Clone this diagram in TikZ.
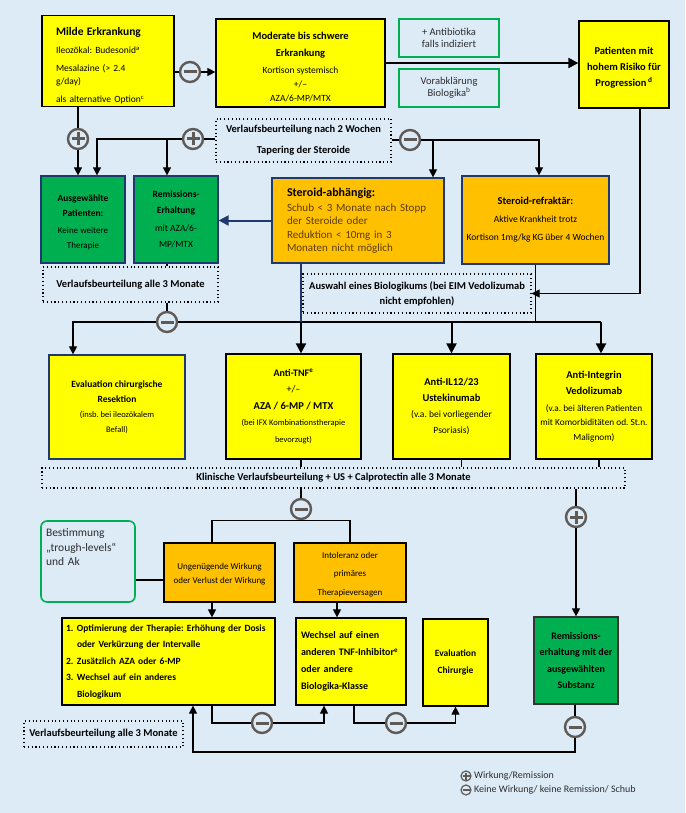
\documentclass[tikz,border=0pt]{standalone}
\usepackage{fontspec}
\setmainfont{Carlito}
\usetikzlibrary{arrows.meta}
\frenchspacing
\newcommand\fsz[2]{\fontsize{#1}{#2}\selectfont}
\definecolor{bg}{RGB}{221,235,247}
\definecolor{yel}{RGB}{255,255,0}
\definecolor{ora}{RGB}{255,192,0}
\definecolor{grn}{RGB}{0,176,80}
\definecolor{navy}{RGB}{31,56,110}
\definecolor{cgray}{RGB}{95,90,86}
\definecolor{tgray}{RGB}{45,45,45}
\definecolor{brn}{RGB}{90,60,10}
\tikzset{
  box/.style={draw=black, line width=1.2pt, inner sep=2pt, align=center},
  ybox/.style={box, fill=yel},
  obox/.style={box, fill=ora},
  gbox/.style={box, fill=grn},
  nv/.style={draw=navy},
  lgbox/.style={draw=grn, line width=1.6pt, fill=bg, align=center, text=tgray, inner sep=2pt},
  dbox/.style={draw=black, line width=1.1pt, dash pattern=on 1.1pt off 2.7pt, align=center, inner sep=2pt},
  conn/.style={draw=black, line width=1.1pt},
  arr/.style={conn, -{Triangle[length=8pt,width=8pt]}},
  tarr/.style={draw=black, line width=2pt, -{Triangle[length=10pt,width=10pt]}},
  navarr/.style={draw=navy, line width=2pt, -{Triangle[length=10pt,width=10pt]}},
  navline/.style={draw=navy, line width=1.1pt},
  mcirc/.style={circle, draw=cgray, line width=2.4pt, fill=bg, minimum size=20pt, inner sep=0pt,
    path picture={\draw[cgray, line width=3pt] ([xshift=-6.5pt]path picture bounding box.center) -- ([xshift=6.5pt]path picture bounding box.center);}},
  pcirc/.style={circle, draw=cgray, line width=2.4pt, fill=bg, minimum size=20pt, inner sep=0pt,
    path picture={\draw[cgray, line width=3pt] ([xshift=-6.5pt]path picture bounding box.center) -- ([xshift=6.5pt]path picture bounding box.center);
      \draw[cgray, line width=3pt] ([yshift=-6.5pt]path picture bounding box.center) -- ([yshift=6.5pt]path picture bounding box.center);}},
  lmc/.style={circle, draw=cgray, line width=1.2pt, fill=bg, minimum size=10pt, inner sep=0pt,
    path picture={\draw[cgray, line width=1.5pt] ([xshift=-3.5pt]path picture bounding box.center) -- ([xshift=3.5pt]path picture bounding box.center);}},
  lpc/.style={circle, draw=cgray, line width=1.2pt, fill=bg, minimum size=10pt, inner sep=0pt,
    path picture={\draw[cgray, line width=1.5pt] ([xshift=-3.5pt]path picture bounding box.center) -- ([xshift=3.5pt]path picture bounding box.center);
      \draw[cgray, line width=1.5pt] ([yshift=-3.5pt]path picture bounding box.center) -- ([yshift=3.5pt]path picture bounding box.center);}},
  legtext/.style={anchor=west, font=\fsz{10}{12}, text=tgray, inner sep=0pt}
}
\begin{document}
\begin{tikzpicture}[x=1pt,y=-1pt]
\fill[bg] (0,0) rectangle (685,813);
\useasboundingbox (0,0) rectangle (685,813);

% --- row 1
\node[ybox, minimum width=132pt, minimum height=90pt, text width=104pt, align=left, font=\fsz{9.5}{13}] (milde) at (108,61)
  {{\fsz{11.5}{13}\bfseries\rule{0pt}{18.5pt}Milde Erkrankung}\\[5pt] Ileozökal: Budesonid\textsuperscript{a}\\[5pt] Mesalazine (> 2.4\\ g/day)\\[5pt] als alternative Option\textsuperscript{c}};
\node[ybox, minimum width=169pt, minimum height=88pt, font=\fsz{9.5}{14}] (moder) at (300.5,63)
  {\textbf{\fsz{10.5}{14}\rule{0pt}{15pt}Moderate bis schwere}\\[3pt] \textbf{\fsz{10.5}{14}Erkrankung}\\[3pt] Kortison systemisch\\ +/–\\ AZA/6-MP/MTX};
\node[lgbox, minimum width=100pt, minimum height=38pt, font=\fsz{10.5}{11.5}] (abx) at (449,38) {+ Antibiotika\\ falls indiziert};
\node[lgbox, minimum width=100pt, minimum height=38pt, font=\fsz{10.5}{11.5}] (vorab) at (449,88) {Vorabklärung\\ Biologika\textsuperscript{b}};
\node[ybox, minimum width=90pt, minimum height=87pt, font=\fsz{10.5}{16}\bfseries] (pat) at (624,64.5)
  {\rule{0pt}{14.5pt}Patienten mit\\ hohem Risiko für\\ Progression\,\textsuperscript{d}};

\node[mcirc] (m1) at (190,72) {};
\draw[conn] (milde.east |- m1) -- (m1);
\draw[arr] (m1) -- (m1 -| moder.west);
\draw[tarr] (moder.east) -- (moder.east -| pat.west);

% --- row 2
\node[dbox, minimum width=175pt, minimum height=43pt, font=\fsz{10.5}{21}\bfseries] (v2) at (303.5,140.5)
  {Verlaufsbeurteilung nach 2 Wochen\\ Tapering der Steroide};
\node[pcirc] (p1) at (78,139) {};
\node[pcirc] (p2) at (193,139) {};
\node[mcirc] (m2) at (410,140) {};

\node[gbox, nv, minimum width=84pt, minimum height=87pt, font=\fsz{9}{15}] (ausg) at (83,219.5)
  {\textbf{\fsz{9.5}{15}\rule{0pt}{12pt}Ausgewählte}\\ \textbf{\fsz{9.5}{15}Patienten:}\\[2pt] Keine weitere\\ Therapie};
\node[gbox, nv, minimum width=84pt, minimum height=87pt, font=\fsz{9.5}{16}] (remerh) at (176,219.5)
  {\textbf{Remissions-}\\ \textbf{Erhaltung}\\[2pt] mit AZA/6-\\ MP/MTX};
\node[obox, nv, minimum width=172pt, minimum height=85pt, text width=142pt, align=left, font=\fsz{11}{13.5}] (stabh) at (358,220.5)
  {{\fsz{12}{13.5}\bfseries Steroid-abhängig:}\\[1.5pt] {\color{brn}Schub < 3 Monate nach Stopp\\ der Steroide oder\\ Reduktion < 10mg in 3\\ Monaten nicht möglich}};
\node[obox, nv, minimum width=147pt, minimum height=88pt, font=\fsz{9.5}{18}] (refr) at (535.5,220)
  {\textbf{\fsz{10.5}{18}Steroid-refraktär:}\\ Aktive Krankheit trotz\\ Kortison 1mg/kg KG über 4 Wochen};

\draw[conn] (milde.south -| p1) -- (p1);
\draw[arr] (p1) -- (p1 |- ausg.north);
\draw[conn] (v2.west |- p2) -- (p2);
\draw[arr] (p2) -| ([xshift=14pt]ausg.north);
\draw[arr] ([xshift=-9pt]remerh.north |- p2) -- ([xshift=-9pt]remerh.north);
\draw[conn] (v2.east |- m2) -- (m2);
\draw[arr] (m2) -| ([xshift=3.5pt]refr.north);
\draw[arr] ([xshift=75pt]stabh.north |- m2) -- ([xshift=75pt]stabh.north);
\draw[navarr] (stabh.west) -- (stabh.west -| remerh.east);

% --- row 3
\node[dbox, minimum width=175pt, minimum height=35pt, font=\fsz{10.5}{13}\bfseries] (v3l) at (130.5,284.5)
  {Verlaufsbeurteilung alle 3 Monate};
\node[dbox, minimum width=228pt, minimum height=39pt, font=\fsz{10.5}{15}\bfseries] (auswahl) at (417,293.5)
  {Auswahl eines Biologikums (bei EIM Vedolizumab\\ nicht empfohlen)};
\node[mcirc] (m3) at (167,322) {};

% --- row 4
\node[ybox, nv, minimum width=136pt, minimum height=104pt, font=\fsz{8.5}{15}] (evalc) at (117,407)
  {\textbf{\fsz{9.5}{15}Evaluation chirurgische}\\ \textbf{\fsz{9.5}{15}Resektion}\\ (insb. bei ileozökalem\\ Befall)};
\node[ybox, minimum width=135pt, minimum height=105pt, font=\fsz{8.5}{16.5}] (tnf) at (293.5,406.5)
  {\textbf{\fsz{10}{16.5}Anti-TNF\textsuperscript{e}}\\ {\fsz{10}{16.5}+/–}\\ \textbf{\fsz{10.5}{16.5}AZA / 6-MP / MTX}\\ (bei IFX Kombinationstherapie\\ bevorzugt)};
\node[ybox, minimum width=117pt, minimum height=105pt, font=\fsz{9.5}{16}] (il) at (451.5,406.5)
  {\textbf{\fsz{10.5}{16}Anti-IL12/23}\\ \textbf{\fsz{10.5}{16}Ustekinumab}\\ (v.a. bei vorliegender\\ Psoriasis)};
\node[ybox, minimum width=116pt, minimum height=105pt, font=\fsz{9.3}{14.5}] (integ) at (594,406.5)
  {\textbf{\fsz{10.5}{14.5}Anti-Integrin}\\[2pt] \textbf{\fsz{10.5}{14.5}Vedolizumab}\\[2pt] (v.a. bei älteren Patienten\\ mit Komorbiditäten od. St.n.\\ Malignom)};

\draw[conn] ([xshift=-9pt]remerh.south) -- ([xshift=-9pt]remerh.south |- v3l.north);
\draw[conn] (m3 |- v3l.south) -- (m3);
\draw[arr] (m3) -| ([xshift=-44pt]evalc.north);
\draw[conn] (m3) -- ([xshift=7pt]integ.north |- m3);
\draw[tarr] ([xshift=7pt]integ.north |- m3) -- ([xshift=7pt]integ.north);
\draw[tarr] (il.north |- m3) -- (il.north);
\draw[navline] ([xshift=7.5pt]tnf.north |- stabh.south) -- ([xshift=7.5pt]tnf.north |- m3);
\draw[tarr] ([xshift=7.5pt]tnf.north |- m3) -- ([xshift=7.5pt]tnf.north);
\draw[conn] (refr.south) -- (refr.south |- m3);
\draw[arr] ([xshift=16pt]pat.south) |- (auswahl.east);

% --- row 5
\node[dbox, minimum width=583pt, minimum height=20pt, font=\fsz{10.5}{13}\bfseries] (klin) at (333.5,478)
  {Klinische Verlaufsbeurteilung + US + Calprotectin alle 3 Monate};
\draw[conn] ([xshift=7.5pt]tnf.south) -- ([xshift=7.5pt]tnf.south |- klin.north);
\draw[conn] ([xshift=10pt]il.south) -- ([xshift=10pt]il.south |- klin.north);
\draw[conn] ([xshift=5pt]integ.south) -- ([xshift=5pt]integ.south |- klin.north);

\node[mcirc] (m4) at (301,509) {};
\node[pcirc] (p4) at (576,517) {};

\node[lgbox, rounded corners=6pt, minimum width=94pt, minimum height=81pt, text width=84pt, align=left, font=\fsz{11.5}{14.5}] (best) at (88,561.5)
  {Bestimmung\\ „trough-levels“\\ und Ak\\[14pt]\mbox{}};
\node[obox, minimum width=111pt, minimum height=59pt, font=\fsz{9}{14}] (ungen) at (219.5,572.5)
  {\rule{0pt}{10pt}Ungenügende Wirkung\\ oder Verlust der Wirkung};
\node[obox, minimum width=112pt, minimum height=59pt, font=\fsz{9}{18.5}] (intol) at (350,572.5)
  {\rule{0pt}{10pt}Intoleranz oder\\ primäres\\ Therapieversagen};

\node[ybox, minimum width=213pt, minimum height=87pt, text width=205pt, align=left, font=\fsz{9.5}{16.5}\bfseries] (optim) at (168.5,661.5)
  {\makebox[11pt][l]{1.}Optimierung der Therapie: Erhöhung der Dosis\\ \hspace*{11pt}oder Verkürzung der Intervalle\\ \makebox[11pt][l]{2.}Zusätzlich AZA oder 6-MP\\ \makebox[11pt][l]{3.}Wechsel auf ein anderes\\ \hspace*{11pt}Biologikum};
\node[ybox, minimum width=110pt, minimum height=87pt, text width=100pt, align=left, font=\fsz{10}{17}\bfseries] (wechsel) at (351,661.5)
  {Wechsel auf einen\\ anderen TNF-Inhibitor\textsuperscript{e}\\ oder andere\\ Biologika-Klasse};
\node[ybox, minimum width=65pt, minimum height=87pt, font=\fsz{9.5}{17}\bfseries] (evalch) at (455.5,662.5)
  {Evaluation\\ Chirurgie};
\node[gbox, draw=black!80, minimum width=84pt, minimum height=87pt, font=\fsz{10}{16.5}\bfseries] (remsub) at (576,660.5)
  {Remissions-\\ erhaltung mit der\\ ausgewählten\\ Substanz};

\draw[conn] (m4 |- klin.south) -- (m4);
\draw[conn] (p4 |- klin.south) -- (p4);
\draw[arr] (p4) -- (p4 |- remsub.north);
\draw[conn] ([xshift=-7.5pt]ungen.north) |- (m4.south) -| (intol.north);
\draw[conn] ([yshift=-7.5pt]ungen.west) -- ([yshift=-7.5pt]ungen.west -| best.east);
\draw[arr] ([xshift=-7.5pt]ungen.south) -- ([xshift=-7.5pt]ungen.south |- optim.north);
\draw[arr] ([xshift=-13pt]intol.south) -- ([xshift=-13pt]intol.south |- wechsel.north);

% --- bottom
\node[dbox, minimum width=159pt, minimum height=26pt, font=\fsz{10.5}{13}\bfseries] (v3b) at (103.5,734)
  {Verlaufsbeurteilung alle 3 Monate};
\node[mcirc] (m5) at (262,723) {};
\node[mcirc] (m6) at (396,723) {};
\node[mcirc] (m7) at (575,727) {};
\coordinate (c7) at (575,752);

\draw[conn] ([xshift=43.5pt]optim.south) |- (m5);
\draw[arr] (m5) -| ([xshift=-27pt]wechsel.south);
\draw[conn] ([xshift=3pt]wechsel.south) |- (m6);
\draw[arr] (m6) -| (evalch.south);
\draw[conn] (remsub.south -| m7) -- (m7);
\draw[arr] (m7) -- (c7) -| ([xshift=24.5pt]optim.south);

% --- legend
\node[lpc] (lp) at (466,776) {};
\node[legtext] (lt1) at (474,776) {Wirkung/Remission};
\node[lmc] (lm) at (466,790) {};
\node[legtext] (lt2) at (474,790) {Keine Wirkung/ keine Remission/ Schub};
\end{tikzpicture}
\end{document}
